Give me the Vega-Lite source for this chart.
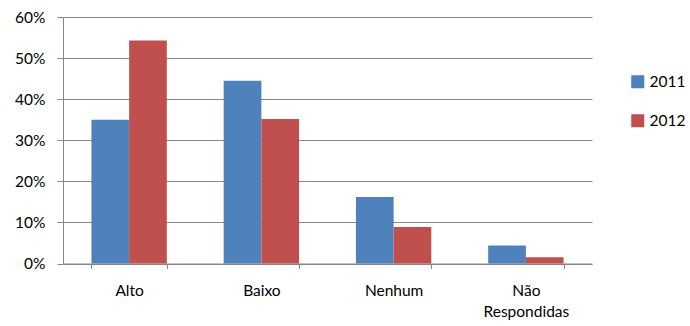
{
  "$schema": "https://vega.github.io/schema/vega-lite/v6.json",
  "width": 529,
  "height": 246.5,
  "autosize": {"type": "none"},
  "padding": {"left": 63, "top": 17, "right": 98, "bottom": 62.5},
  "background": "white",
  "config": {
    "font": "Lato",
    "view": {"stroke": null}
  },
  "data": {
    "values": [
      {"categoria": "Alto", "ano": "2011", "valor": 0.35},
      {"categoria": "Alto", "ano": "2012", "valor": 0.543},
      {"categoria": "Baixo", "ano": "2011", "valor": 0.445},
      {"categoria": "Baixo", "ano": "2012", "valor": 0.352},
      {"categoria": "Nenhum", "ano": "2011", "valor": 0.162},
      {"categoria": "Nenhum", "ano": "2012", "valor": 0.089},
      {"categoria": "Não Respondidas", "ano": "2011", "valor": 0.044},
      {"categoria": "Não Respondidas", "ano": "2012", "valor": 0.015}
    ]
  },
  "mark": {"type": "bar"},
  "encoding": {
    "x": {
      "field": "categoria",
      "type": "nominal",
      "sort": null,
      "scale": {"paddingInner": 0.43, "paddingOuter": 0.215},
      "axis": {
        "title": null,
        "labelAngle": 0,
        "tickBand": "extent",
        "domainColor": "#868686",
        "tickColor": "#868686",
        "tickSize": 5,
        "labelPadding": 15,
        "labelFontSize": 15.5,
        "labelColor": "#000000",
        "labelLineHeight": 21,
        "labelBaseline": "top",
        "labelExpr": "datum.label == 'Não Respondidas' ? ['Não', 'Respondidas'] : datum.label"
      }
    },
    "xOffset": {"field": "ano", "type": "nominal", "scale": {"paddingInner": 0, "paddingOuter": 0}},
    "y": {
      "field": "valor",
      "type": "quantitative",
      "scale": {"domain": [0, 0.6], "nice": false},
      "axis": {
        "title": null,
        "values": [0, 0.1, 0.2, 0.3, 0.4, 0.5, 0.6],
        "format": ".0%",
        "grid": true,
        "gridColor": "#868686",
        "gridWidth": 1,
        "domainColor": "#868686",
        "tickColor": "#868686",
        "tickSize": 6,
        "labelPadding": 12,
        "labelFontSize": 15.5,
        "labelColor": "#000000"
      }
    },
    "color": {
      "field": "ano",
      "type": "nominal",
      "scale": {"domain": ["2011", "2012"], "range": ["#4F81BD", "#C0504D"]},
      "legend": {
        "title": null,
        "orient": "none",
        "legendX": 567,
        "legendY": 57,
        "symbolType": "square",
        "symbolSize": 170,
        "symbolStrokeWidth": 0,
        "labelFontSize": 15.5,
        "labelColor": "#000000",
        "rowPadding": 22,
        "labelOffset": 4
      }
    }
  }
}
